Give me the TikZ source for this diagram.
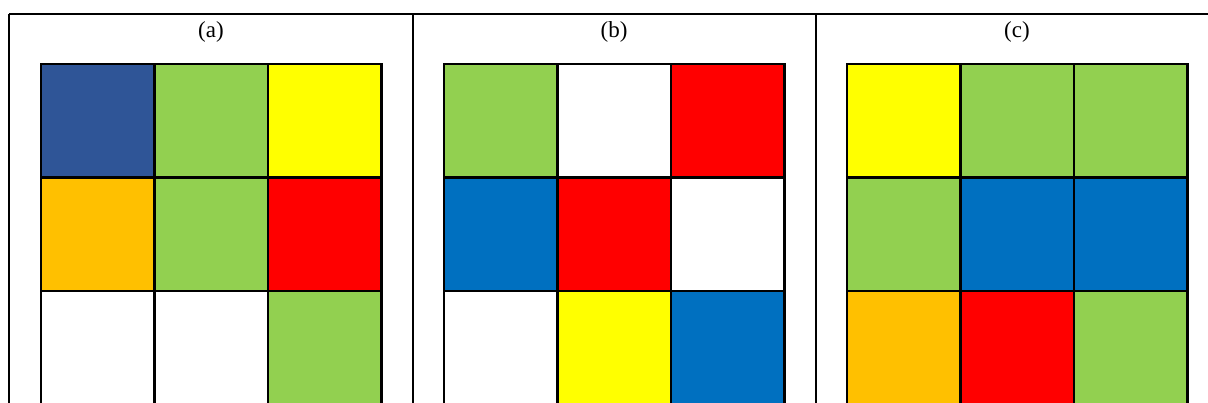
\documentclass[tikz,border=0pt]{standalone}
\usepackage{fontspec}
\setmainfont{Liberation Serif}
\definecolor{cdb}{HTML}{2F5597}
\definecolor{cgr}{HTML}{92D050}
\definecolor{cye}{HTML}{FFFF00}
\definecolor{cor}{HTML}{FFC000}
\definecolor{cre}{HTML}{FF0000}
\definecolor{cbl}{HTML}{0070C0}
\definecolor{cwh}{HTML}{FFFFFF}
\tikzset{
  rule/.style={line width=2.6pt, black},
  cell/.style={line width=2.6pt, draw=black, line cap=rect},
  lbl/.style={font=\fontsize{23}{26}\selectfont, inner sep=0pt}
}
\newcommand{\gridrow}[5]{% x0, y0, c1, c2, c3
  \fill[#3] (#1,#2) rectangle ++(113.5,113.5);
  \fill[#4] (#1+113.5,#2) rectangle ++(113.5,113.5);
  \fill[#5] (#1+227,#2) rectangle ++(113.5,113.5);
}
\newcommand{\gridlines}[2]{% x0,y0
  \foreach \i in {0,1,2,3} {
    \draw[cell] (#1+113.5*\i,#2) -- (#1+113.5*\i,#2+345);
  }
  \foreach \j in {0,1,2} {
    \draw[cell] (#1,#2+113.5*\j) -- (#1+340.5,#2+113.5*\j);
  }
}
\begin{document}
\begin{tikzpicture}[x=1pt,y=-1pt]
\useasboundingbox (0,0) rectangle (1208,403);
\clip (0,0) rectangle (1208,403);
\fill[white] (0,0) rectangle (1208,403);
% grid a
\gridrow{41}{64}{cdb}{cgr}{cye}
\gridrow{41}{177.5}{cor}{cgr}{cre}
\gridrow{41}{291}{cwh}{cwh}{cgr}
\gridlines{41}{64}
% grid b
\gridrow{444}{64}{cgr}{cwh}{cre}
\gridrow{444}{177.5}{cbl}{cre}{cwh}
\gridrow{444}{291}{cwh}{cye}{cbl}
\gridlines{444}{64}
% grid c
\gridrow{847}{64}{cye}{cgr}{cgr}
\gridrow{847}{177.5}{cgr}{cbl}{cbl}
\gridrow{847}{291}{cor}{cre}{cgr}
\gridlines{847}{64}
% table rules
\coordinate (tl) at (9,14);
\coordinate (tr) at (1210,14);
\coordinate (bl) at (9,405);
\coordinate (d1t) at (413,14);
\coordinate (d1b) at (413,405);
\coordinate (d2t) at (816,14);
\coordinate (d2b) at (816,405);
\draw[rule] (tl) -- (tr);
\draw[rule] (tl) -- (bl);
\draw[rule] (d1t) -- (d1b);
\draw[rule] (d2t) -- (d2b);
% labels
\node[lbl] (la) at (211,31.5) {(a)};
\node[lbl] (lb) at (614,31.5) {(b)};
\node[lbl] (lc) at (1017,31.5) {(c)};
\end{tikzpicture}
\end{document}
